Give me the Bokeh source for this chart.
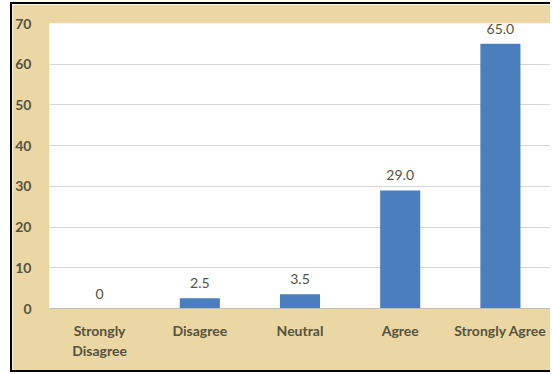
from bokeh.plotting import figure
from bokeh.models import ColumnDataSource, FixedTicker, LabelSet
from bokeh.core.properties import value
from bokeh.embed import file_html
from bokeh.resources import INLINE

categories = ["Strongly Disagree", "Disagree", "Neutral", "Agree", "Strongly Agree"]
values = [0, 2.5, 3.5, 29.0, 65.0]
value_labels = ["0", "2.5", "3.5", "29.0", "65.0"]
y_ticks = [0, 10, 20, 30, 40, 50, 60, 70]

# the first category label wraps onto two lines in the original
factors = ["Strongly\nDisagree" if c == "Strongly Disagree" else c for c in categories]

parch = "#EAD7A4"
txt = "#55533f"
font = "Lato"

src = ColumnDataSource(dict(cat=factors, val=values, lab=value_labels))

p = figure(x_range=factors, y_range=(0, 70), width=540, height=370,
           output_backend="svg", toolbar_location=None,
           min_border_left=36, min_border_right=2, min_border_top=19, min_border_bottom=66)
p.styles = {"margin-left": "10px", "margin-top": "2px",
            "border-left": "2px solid black", "border-top": "2px solid black",
            "border-bottom": "2px solid black"}
p.border_fill_color = parch
p.background_fill_color = "white"
p.outline_line_color = None

p.vbar(x="cat", top="val", width=0.4, source=src, fill_color="#4A7EBD", line_color=None)

labels = LabelSet(x="cat", y="val", text="lab", source=src, text_align="center",
                  text_baseline="bottom", y_offset=10, text_font=value(font),
                  text_font_size="14px", text_color=txt)
p.add_layout(labels)

p.xgrid.grid_line_color = None
p.ygrid.grid_line_color = "#D6D6D6"
p.ygrid.ticker = FixedTicker(ticks=y_ticks)

p.yaxis.ticker = FixedTicker(ticks=y_ticks)
p.yaxis.axis_line_color = None
p.yaxis.major_tick_line_color = None
p.yaxis.minor_tick_line_color = None
p.yaxis.major_label_standoff = 12
p.yaxis.major_label_text_font = font
p.yaxis.major_label_text_font_size = "14px"
p.yaxis.major_label_text_font_style = "bold"
p.yaxis.major_label_text_color = txt

p.xaxis.axis_line_color = "#BFBFBF"
p.xaxis.major_tick_line_color = None
p.xaxis.minor_tick_line_color = None
p.xaxis.major_label_standoff = 7
p.xaxis.major_label_text_font = font
p.xaxis.major_label_text_font_size = "14px"
p.xaxis.major_label_text_font_style = "bold"
p.xaxis.major_label_text_color = txt

open("out.html", "w").write(file_html(p, INLINE))
